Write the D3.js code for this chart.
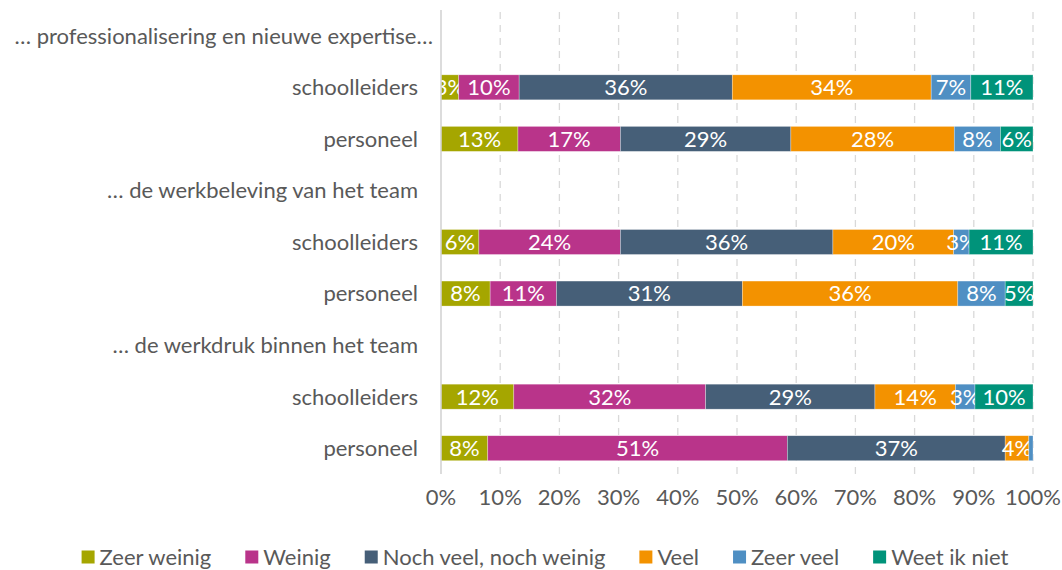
<!DOCTYPE html>
<html>
<head>
<meta charset="utf-8">
<script src="https://cdn.jsdelivr.net/npm/d3@7"></script>
<style>
  body { margin: 0; background: #fff; }
  text { font-family: Lato, "Open Sans", sans-serif; }
</style>
</head>
<body>
<svg id="chart" width="1062" height="570"></svg>
<script>
// rows from top to bottom; headers have no bar
const rows = [
  '… professionalisering en nieuwe expertise…',
  'schoolleiders',
  'personeel',
  '… de werkbeleving van het team',
  'schoolleiders',
  'personeel',
  '… de werkdruk binnen het team',
  'schoolleiders',
  'personeel'
];
const isHeader = [true, false, false, true, false, false, true, false, false];

const series = ['Zeer weinig', 'Weinig', 'Noch veel, noch weinig', 'Veel', 'Zeer veel', 'Weet ik niet'];
const colors = ['#a5a600', '#b9348a', '#465f78', '#f39200', '#4f8fc3', '#00937a'];

// percentages per bar row (same order as series)
const zeerWeinig = [3.0, 13.0, 6.4, 8.3, 12.3, 7.9];
const weinig     = [10.2, 17.3, 23.9, 11.2, 32.4, 50.6];
const noch       = [36.0, 28.8, 35.9, 31.4, 28.6, 36.8];
const veel       = [33.6, 27.6, 20.4, 36.4, 13.6, 4.0];
const zeerVeel   = [6.7, 7.8, 2.6, 8.0, 3.3, 0.7];
const weetNiet   = [10.5, 5.5, 10.8, 4.7, 9.8, 0];

const ticks = d3.range(0, 101, 10);

const svg = d3.select('#chart');
const textColor = '#595959';
const fontSize = '22px';

const x = d3.scaleLinear().domain([0, 100]).range([441, 1033]);
const y = d3.scaleBand()
  .domain(d3.range(rows.length))
  .range([10, 474])
  .paddingInner(0.5)
  .paddingOuter(0.25);

// build bar data
const barRows = rows.map((r, i) => i).filter(i => !isHeader[i]);
const values = [zeerWeinig, weinig, noch, veel, zeerVeel, weetNiet];
const table = barRows.map((row, j) => {
  const o = { row: row };
  series.forEach((s, k) => { o[s] = values[k][j]; });
  return o;
});
const stacked = d3.stack().keys(series)(table);

// gridlines
svg.append('g')
  .selectAll('line')
  .data(ticks.filter(t => t > 0))
  .join('line')
  .attr('x1', d => x(d))
  .attr('x2', d => x(d))
  .attr('y1', 12)
  .attr('y2', 474)
  .attr('stroke', '#d9d9d9')
  .attr('stroke-width', 1.3)
  .attr('stroke-dasharray', '7,6');

// bars
const layers = svg.append('g')
  .selectAll('g')
  .data(stacked)
  .join('g')
  .attr('fill', (d, i) => colors[i]);

layers.selectAll('rect')
  .data(d => d)
  .join('rect')
  .attr('x', d => x(d[0]))
  .attr('width', d => x(d[1]) - x(d[0]))
  .attr('y', d => y(d.data.row) + y.bandwidth() / 2 - 12.5)
  .attr('height', 25)
  .attr('stroke', '#ffffff')
  .attr('stroke-opacity', 0.5)
  .attr('stroke-width', 0.6);

layers.selectAll('text')
  .data(d => d.filter(p => p[1] - p[0] >= 1))
  .join('text')
  .attr('x', d => (x(d[0]) + x(d[1])) / 2)
  .attr('y', d => y(d.data.row) + y.bandwidth() / 2)
  .attr('dy', '0.36em')
  .attr('text-anchor', 'middle')
  .attr('fill', '#fff')
  .style('font-size', fontSize)
  .text(d => Math.round(d[1] - d[0]) + '%');

// left axis line
svg.append('line')
  .attr('x1', x(0)).attr('x2', x(0))
  .attr('y1', 10).attr('y2', 474)
  .attr('stroke', '#d0d0d0')
  .attr('stroke-width', 1.5);

// category labels
svg.append('g')
  .selectAll('text')
  .data(rows)
  .join('text')
  .attr('x', d => d.endsWith('…') ? x(0) - 8 : x(0) - 23)
  .attr('y', (d, i) => y(i) + y.bandwidth() / 2)
  .attr('dy', '0.36em')
  .attr('text-anchor', 'end')
  .attr('fill', textColor)
  .style('font-size', fontSize)
  .text(d => d);

// x axis tick labels
svg.append('g')
  .selectAll('text')
  .data(ticks)
  .join('text')
  .attr('x', d => x(d))
  .attr('y', 505)
  .attr('text-anchor', 'middle')
  .attr('fill', textColor)
  .style('font-size', fontSize)
  .text(d => d + '%');

// legend
const legend = svg.append('g');
const items = legend.selectAll('g')
  .data(series)
  .join('g');
items.append('rect')
  .attr('width', 13)
  .attr('height', 13)
  .attr('y', -6.5)
  .attr('fill', (d, i) => colors[i]);
items.append('text')
  .attr('x', 18)
  .attr('dy', '0.36em')
  .attr('fill', textColor)
  .style('font-size', fontSize)
  .text(d => d);

const gap = 34;
let offset = 0;
const widths = [];
items.each(function () {
  widths.push(18 + this.querySelector('text').getComputedTextLength());
});
const total = d3.sum(widths) + gap * (widths.length - 1);
const startX = (1062 - total) / 2 + 14;
items.attr('transform', (d, i) => {
  const tx = startX + offset;
  offset += widths[i] + gap;
  return `translate(${tx},557)`;
});
</script>
</body>
</html>
